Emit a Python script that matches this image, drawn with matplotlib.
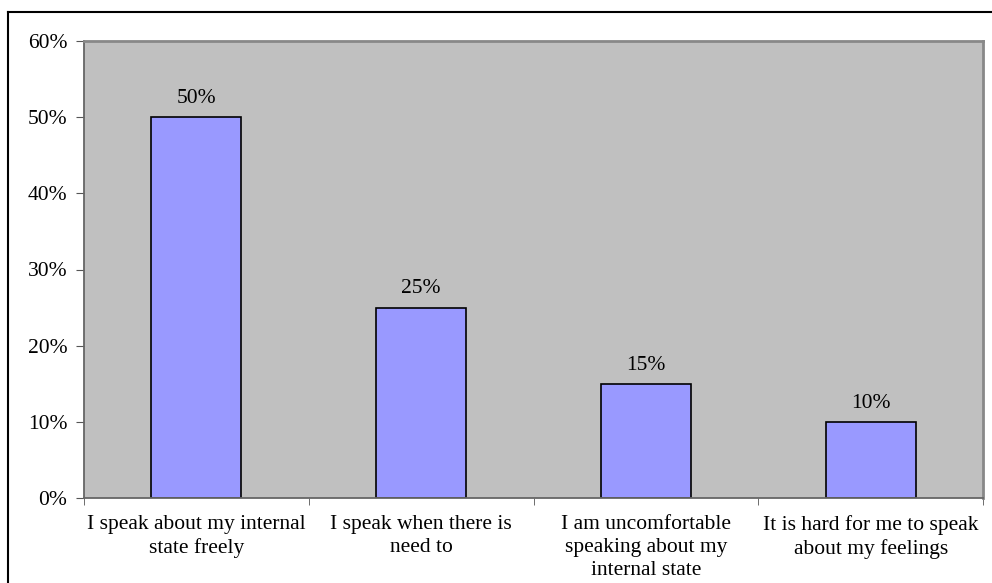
import matplotlib.pyplot as plt
from matplotlib.lines import Line2D
from matplotlib.ticker import FixedLocator, NullFormatter

plt.rcParams['font.family'] = ['Liberation Serif', 'DejaVu Serif']

categories = [
    "I speak about my internal\nstate freely",
    "I speak when there is\nneed to",
    "I am uncomfortable\nspeaking about my\ninternal state",
    "It is hard for me to speak\nabout my feelings",
]
values = [50, 25, 15, 10]
yticks = [0, 10, 20, 30, 40, 50, 60]

fs = 15.5

fig = plt.figure(figsize=(9.92, 5.83), dpi=100)
ax = fig.add_axes([84 / 992, 85 / 583, 899 / 992, 457 / 583])
ax.set_facecolor('#C0C0C0')

x = range(len(values))
bars = ax.bar(x, values, width=0.4, color='#9999FF', edgecolor='black', linewidth=1.2)
for xi, v in zip(x, values):
    ax.text(xi, v + 1.2, f"{v}%", ha='center', va='bottom', fontsize=fs)

ax.set_xlim(-0.5, len(values) - 0.5)
ax.set_ylim(0, 60)
ax.set_yticks(yticks)
ax.set_yticklabels([f"{t}%" for t in yticks], fontsize=fs)
ax.set_xticks(list(x))
ax.set_xticklabels(categories, fontsize=fs, linespacing=1.3)
ax.tick_params(axis='x', length=0, pad=12)
ax.xaxis.set_minor_locator(FixedLocator([-0.5, 0.5, 1.5, 2.5, 3.5]))
ax.xaxis.set_minor_formatter(NullFormatter())
ax.tick_params(axis='x', which='minor', length=5, color='#555555')
ax.tick_params(axis='y', length=6, color='#555555', pad=6)

for side in ['left', 'bottom']:
    ax.spines[side].set_color('#666666')
    ax.spines[side].set_linewidth(1.3)
for side in ['top', 'right']:
    ax.spines[side].set_color('#888888')
    ax.spines[side].set_linewidth(2)

# outer frame (only left and top edges visible)
fig.add_artist(Line2D([8 / 992, 8 / 992], [0, 1 - 12 / 583], color='black', linewidth=1.5))
fig.add_artist(Line2D([8 / 992, 1], [1 - 12 / 583, 1 - 12 / 583], color='black', linewidth=1.5))

fig.savefig('out.png', dpi=100)
